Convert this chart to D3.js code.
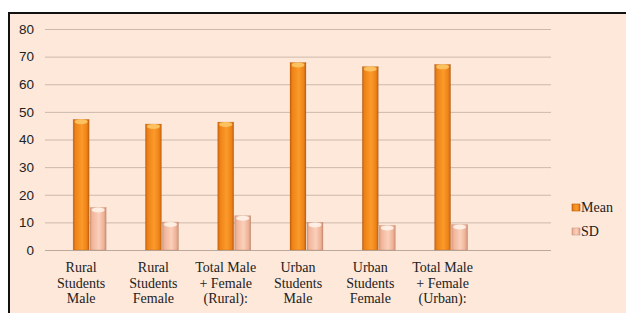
<!DOCTYPE html>
<html><head><meta charset="utf-8">
<script src="https://cdn.jsdelivr.net/npm/d3@7"></script>
<style>
html,body{margin:0;padding:0;background:#fff;}
.serif{font-family:"Liberation Serif","Times New Roman","DejaVu Serif",serif;}
.sans{font-family:"Liberation Sans",Arial,sans-serif;}
</style>
</head><body>
<svg id="c" width="626" height="313"></svg>
<script>
const categories = [
  ["Rural","Students","Male"],
  ["Rural","Students","Female"],
  ["Total Male","+ Female","(Rural):"],
  ["Urban","Students","Male"],
  ["Urban","Students","Female"],
  ["Total Male","+ Female","(Urban):"],
  [""]
];
const meanValues = [47.3, 45.6, 46.3, 67.9, 66.4, 67.2];
const sdValues = [15.4, 10.1, 12.4, 10.0, 8.9, 9.2];
const yTicks = [0,10,20,30,40,50,60,70,80];
const seriesNames = ["Mean","SD"];

const svg = d3.select("#c");
const defs = svg.append("defs");
function grad(id, stops){
  const g = defs.append("linearGradient").attr("id",id).attr("x1","0").attr("x2","1").attr("y1","0").attr("y2","0");
  stops.forEach(([o,c])=>g.append("stop").attr("offset",o).attr("stop-color",c));
}
grad("gMean",[[0,"#c9620c"],[0.15,"#ee8318"],[0.55,"#fb9a2a"],[0.85,"#ee8318"],[1,"#c2600f"]]);
grad("gSD",[[0,"#d99a80"],[0.15,"#f1b69b"],[0.55,"#fbd0bb"],[0.85,"#efb296"],[1,"#cf927a"]]);

// frame
svg.append("rect").attr("x",0).attr("y",0).attr("width",626).attr("height",313).attr("fill","#fff");
svg.append("rect").attr("x",9).attr("y",13).attr("width",617).attr("height",300).attr("fill","#fde8da");
svg.append("line").attr("x1",9).attr("x2",626).attr("y1",13).attr("y2",13).attr("stroke","#111").attr("stroke-width",2);
svg.append("line").attr("x1",9).attr("x2",9).attr("y1",12).attr("y2",313).attr("stroke","#111").attr("stroke-width",2);

const pLeft = 45, pRight = 551, pTop = 29, pBottom = 250;
const x = d3.scaleBand().domain(d3.range(categories.length)).range([pLeft,pRight]).padding(0);
const y = d3.scaleLinear().domain([0,80]).range([pBottom,pTop]);

// gridlines
svg.append("g").selectAll("line").data(yTicks).join("line")
  .attr("x1",pLeft).attr("x2",pRight)
  .attr("y1",d=>y(d)+0.5).attr("y2",d=>y(d)+0.5)
  .attr("stroke",d=>d===0?"#bca99b":"#cdb9ab").attr("stroke-width",1);

// y axis labels
const yAxis = d3.axisLeft(y).tickValues(yTicks).tickSize(0).tickPadding(0);
const ya = svg.append("g").attr("transform",`translate(${pLeft-11},0)`).call(yAxis);
ya.select(".domain").remove();
ya.attr("font-family",null).attr("font-size",null);
ya.selectAll("text").attr("class","sans").style("font-size","13.5px").attr("fill","#222");

const bw = 16;
function drawBars(vals, offset, fill, cap){
  const g = svg.append("g");
  g.selectAll("rect").data(vals).join("rect")
    .attr("x",(d,i)=>x(i)+x.bandwidth()/2+offset)
    .attr("y",d=>y(d))
    .attr("width",bw).attr("height",d=>pBottom-y(d))
    .attr("fill",fill).attr("stroke","rgba(120,60,20,0.25)").attr("stroke-width",0.6);
  g.selectAll("ellipse").data(vals).join("ellipse")
    .attr("cx",(d,i)=>x(i)+x.bandwidth()/2+offset+bw/2)
    .attr("cy",d=>y(d)+2.5)
    .attr("rx",bw/2-1.5).attr("ry",2.5)
    .attr("fill",cap).attr("opacity",0.9);
}
drawBars(meanValues,-8,"url(#gMean)","#fdc766");
drawBars(sdValues,9,"url(#gSD)","#fff2e8");

// category labels
const cl = svg.append("g");
categories.forEach((lines,i)=>{
  const t = cl.append("text").attr("class","serif").attr("x",x(i)+x.bandwidth()/2).attr("y",272)
    .attr("text-anchor","middle").style("font-size","14px").attr("fill","#222");
  lines.forEach((l,j)=>t.append("tspan").attr("x",x(i)+x.bandwidth()/2).attr("dy",j===0?0:15.5).text(l));
});

// legend
const lg = svg.append("g");
seriesNames.forEach((n,i)=>{
  const yy = 207 + i*24;
  lg.append("rect").attr("x",572).attr("y",yy-3).attr("width",8).attr("height",7)
    .attr("fill",i===0?"url(#gMean)":"url(#gSD)").attr("stroke",i===0?"#b85a10":"#c99a88").attr("stroke-width",0.6);
  lg.append("text").attr("class","serif").attr("x",581).attr("y",yy+5).style("font-size","14px")
    .attr("fill","#222").text(n);
});
</script>
</body></html>
